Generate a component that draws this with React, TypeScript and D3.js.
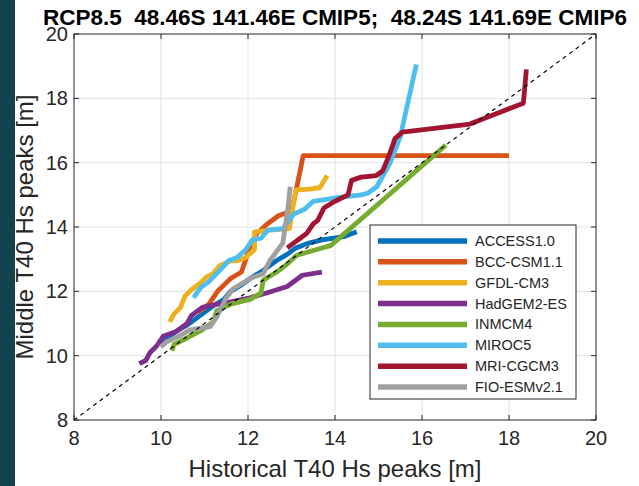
import React from "react";
import * as d3 from "d3";

// Chart frame
const W = 639;
const H = 486;
const M = { left: 74, right: 43, top: 34, bottom: 66 };

const TITLE = "RCP8.5  48.46S 141.46E CMIP5;  48.24S 141.69E CMIP6";
const X_LABEL = "Historical T40 Hs peaks [m]";
const Y_LABEL = "Middle T40 Hs peaks [m]";
const TICKS = [8, 10, 12, 14, 16, 18, 20];

// Sorted peak pairs per model (historical vs mid-century)
const models = ["ACCESS1.0", "BCC-CSM1.1", "GFDL-CM3", "HadGEM2-ES", "INMCM4", "MIROC5", "MRI-CGCM3", "FIO-ESMv2.1"];
const colors = ["#0072BD", "#D95319", "#EDB120", "#7E2F8E", "#77AC30", "#4DBEEE", "#A2142F", "#A0A0A0"];

const accessX = [10.0, 10.2, 10.4, 10.6, 10.85, 11.2, 11.45, 11.6, 11.85, 12.05, 12.35, 12.65, 12.9, 13.1, 13.4, 13.7, 14.2, 14.5];
const accessY = [10.4, 10.6, 10.8, 10.95, 11.2, 11.55, 11.75, 12.0, 12.2, 12.4, 12.65, 12.95, 13.15, 13.35, 13.5, 13.6, 13.7, 13.85];

const bccX = [10.85, 11.1, 11.3, 11.45, 11.6, 11.85, 11.95, 12.05, 12.2, 12.45, 12.7, 13.0, 13.1, 13.27, 18.0];
const bccY = [11.35, 11.6, 12.0, 12.2, 12.4, 12.6, 13.0, 13.4, 13.8, 14.1, 14.35, 14.5, 15.1, 16.22, 16.22];

const gfdlX = [10.2, 10.3, 10.45, 10.55, 10.7, 10.9, 11.05, 11.2, 11.35, 11.6, 11.75, 11.95, 12.15, 12.15, 12.5, 12.95, 13.1, 13.4, 13.65, 13.82];
const gfdlY = [11.05, 11.3, 11.5, 11.85, 12.05, 12.25, 12.45, 12.55, 12.8, 12.95, 12.95, 13.05, 13.3, 13.85, 13.9, 13.95, 15.15, 15.18, 15.22, 15.6];

const hadX = [9.5, 9.65, 9.75, 9.9, 10.05, 10.35, 10.6, 10.7, 10.95, 11.3, 11.6, 12.05, 12.5, 12.9, 13.25, 13.7];
const hadY = [9.75, 9.85, 10.1, 10.3, 10.6, 10.75, 11.0, 11.25, 11.5, 11.6, 11.67, 11.8, 11.98, 12.15, 12.5, 12.6];

const inmX = [10.25, 10.3, 10.6, 10.95, 11.2, 11.28, 11.6, 12.05, 12.3, 12.35, 12.66, 12.9, 13.12, 13.66, 13.9, 16.55];
const inmY = [10.15, 10.35, 10.55, 10.8, 11.05, 11.4, 11.6, 11.75, 11.95, 12.35, 12.6, 12.85, 13.12, 13.33, 13.42, 16.55];

const mirocX = [10.75, 10.9, 11.1, 11.35, 11.55, 11.75, 11.95, 12.1, 12.3, 12.45, 12.8, 13.05, 13.3, 13.5, 14.1, 14.6, 14.75, 14.96, 15.25, 15.5, 15.87];
const mirocY = [11.8, 12.1, 12.3, 12.65, 12.95, 13.05, 13.3, 13.6, 13.65, 13.9, 13.95, 14.4, 14.55, 14.8, 14.92, 15.0, 15.05, 15.25, 15.95, 16.8, 19.05];

const mriX = [12.9, 13.05, 13.2, 13.35, 13.5, 13.6, 13.75, 14.0, 14.3, 14.38, 14.6, 14.95, 15.1, 15.25, 15.38, 15.55, 17.1, 18.33, 18.4];
const mriY = [13.35, 13.5, 13.65, 13.8, 14.1, 14.2, 14.6, 14.8, 15.0, 15.45, 15.55, 15.6, 15.75, 16.25, 16.75, 16.95, 17.2, 17.85, 18.9];

const fioX = [10.0, 10.13, 10.4, 10.67, 11.13, 11.28, 11.5, 11.66, 12.05, 12.35, 12.5, 12.8, 12.92, 12.97];
const fioY = [10.27, 10.43, 10.6, 10.8, 10.9, 11.2, 11.8, 12.08, 12.4, 12.55, 12.95, 13.5, 14.6, 15.25];

const seriesX = [accessX, bccX, gfdlX, hadX, inmX, mirocX, mriX, fioX];
const seriesY = [accessY, bccY, gfdlY, hadY, inmY, mirocY, mriY, fioY];

const AXIS = "#262626";
const GRID = "#e3e3e3";
const FONT = "'Liberation Sans', Arial, Helvetica, sans-serif";

export default function App() {
  const x = d3.scaleLinear().domain([8, 20]).range([M.left, W - M.right]);
  const y = d3.scaleLinear().domain([8, 20]).range([H - M.bottom, M.top]);
  const x0 = x(8), x1 = x(20), y0 = y(8), y1 = y(20);

  const line = d3
    .line<[number, number]>()
    .x((d) => x(d[0]))
    .y((d) => y(d[1]));

  const series = models.map((name, i) => ({
    name,
    color: colors[i],
    pts: seriesX[i].map((v, j) => [v, seriesY[i][j]] as [number, number]),
  }));

  // legend box
  const lg = { x: 370, y: 225, w: 206, h: 174, row: 20.86, first: 241 };

  return (
    <div style={{ position: "absolute", left: 0, top: 0 }}>
      <svg width={W} height={H} style={{ display: "block", background: "#fff" }} fontFamily={FONT}>
        <rect x={0} y={0} width={15} height={H} fill="#12434f" />

        {/* grid */}
        {TICKS.slice(1, -1).map((t) => (
          <g key={"g" + t}>
            <line x1={x(t)} x2={x(t)} y1={y0} y2={y1} stroke={GRID} strokeWidth={1} />
            <line x1={x0} x2={x1} y1={y(t)} y2={y(t)} stroke={GRID} strokeWidth={1} />
          </g>
        ))}

        {/* data */}
        {series.map((s) => (
          <path
            key={s.name}
            d={line(s.pts) || ""}
            fill="none"
            stroke={s.color}
            strokeWidth={4.8}
            strokeLinejoin="round"
            strokeLinecap="butt"
          />
        ))}

        {/* 1:1 reference */}
        <path
          d={line([[8, 8], [20, 20]]) || ""}
          fill="none"
          stroke="#000"
          strokeWidth={1.2}
          strokeDasharray="4 4"
        />

        {/* box and ticks */}
        <rect x={x0} y={y1} width={x1 - x0} height={y0 - y1} fill="none" stroke={AXIS} strokeWidth={1} />
        {TICKS.map((t) => (
          <g key={"t" + t} stroke={AXIS} strokeWidth={1}>
            <line x1={x(t)} x2={x(t)} y1={y0} y2={y0 - 5} />
            <line x1={x(t)} x2={x(t)} y1={y1} y2={y1 + 5} />
            <line x1={x0} x2={x0 + 5} y1={y(t)} y2={y(t)} />
            <line x1={x1} x2={x1 - 5} y1={y(t)} y2={y(t)} />
          </g>
        ))}
        {TICKS.map((t) => (
          <text key={"xl" + t} x={x(t)} y={y0 + 25} textAnchor="middle" fontSize={20} fill={AXIS}>
            {t}
          </text>
        ))}
        {TICKS.map((t) => (
          <text key={"yl" + t} x={x0 - 6} y={y(t) + 7} textAnchor="end" fontSize={20} fill={AXIS}>
            {t}
          </text>
        ))}

        <text x={(x0 + x1) / 2} y={477} textAnchor="middle" fontSize={24} fill={AXIS}>
          {X_LABEL}
        </text>
        <text
          transform={`translate(33,${(y0 + y1) / 2}) rotate(-90)`}
          textAnchor="middle"
          fontSize={24}
          fill={AXIS}
        >
          {Y_LABEL}
        </text>
        <text
          x={335}
          y={25}
          textAnchor="middle"
          fontSize={22.5}
          fontWeight="bold"
          fill="#000"
          style={{ whiteSpace: "pre" }}
        >
          {TITLE}
        </text>

        {/* legend */}
        <rect x={lg.x} y={lg.y} width={lg.w} height={lg.h} fill="#fff" stroke={AXIS} strokeWidth={1} />
        {series.map((s, i) => (
          <g key={"lg" + s.name}>
            <line
              x1={lg.x + 8}
              x2={lg.x + 97}
              y1={lg.first + i * lg.row}
              y2={lg.first + i * lg.row}
              stroke={s.color}
              strokeWidth={5.5}
            />
            <text x={lg.x + 105} y={lg.first + i * lg.row + 5} fontSize={14.5} fill={AXIS}>
              {s.name}
            </text>
          </g>
        ))}
      </svg>
    </div>
  );
}
